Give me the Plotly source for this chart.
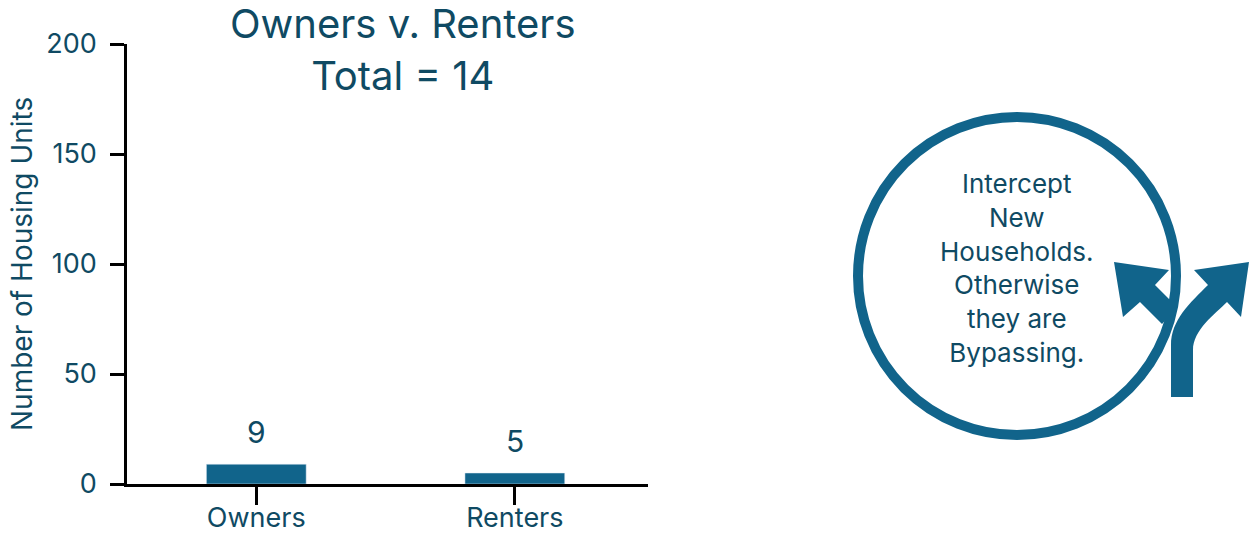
import plotly.graph_objects as go

# data
categories = ['Owners', 'Renters']
units = [9, 5]
total = sum(units)
y_ticks = [0, 50, 100, 150, 200]
circle_lines = ['Intercept', 'New', 'Households.', 'Otherwise', 'they are', 'Bypassing.']

W, H = 1251, 533
TEXT = '#0f4a63'
BLUE = '#11648b'
FONT = 'Inter'


def px(x, y):
    # figure pixels -> paper coords (margins are zero so paper == page)
    return x / W, 1 - y / H


def to_path(cmds):
    out = []
    for c in cmds:
        if isinstance(c, str):
            out.append(c)
        else:
            x, y = px(*c)
            out.append('%.5f,%.5f' % (x, y))
    return ' '.join(out)


fig = go.Figure()
fig.add_trace(go.Bar(x=categories, y=units, width=0.386, marker_color=BLUE,
                     showlegend=False, hoverinfo='x+y'))

# value labels a bit above each bar
for c, v in zip(categories, units):
    fig.add_annotation(x=c, y=v, text=str(v), showarrow=False, yanchor='bottom',
                       yshift=12, font=dict(size=30, color=TEXT, family=FONT))

# title
tx, ty = px(403, 49)
fig.add_annotation(xref='paper', yref='paper', x=tx, y=ty, xanchor='center', yanchor='middle',
                   text='Owners v. Renters<br>Total = %d' % total, showarrow=False,
                   font=dict(size=40, color=TEXT, family=FONT))

# y axis title
ax, ay = px(22, 264)
fig.add_annotation(xref='paper', yref='paper', x=ax, y=ay, textangle=-90, showarrow=False,
                   text='Number of Housing Units', xanchor='center', yanchor='middle',
                   font=dict(size=28, color=TEXT, family=FONT))

# circle
cx, cy, r = 1017, 276, 159
x0, y1 = px(cx - r, cy - r)
x1, y0 = px(cx + r, cy + r)
fig.add_shape(type='circle', xref='paper', yref='paper', x0=x0, x1=x1, y0=y0, y1=y1,
              line=dict(color=BLUE, width=10), fillcolor='rgba(0,0,0,0)')

# left arrow (turn off into the circle)
left_arrow = to_path(['M', (1114, 262), 'L', (1169, 270), 'L', (1155, 285), 'L', (1177, 307),
                      'L', (1162, 324), 'L', (1140, 302), 'L', (1123, 317), 'Z'])
fig.add_shape(type='path', xref='paper', yref='paper', path=left_arrow,
              fillcolor=BLUE, line=dict(width=0))

# right arrow (bypass)
right_arrow = to_path(['M', (1171, 397), 'L', (1193, 397), 'L', (1193, 350),
                       'C', (1193, 330), (1215, 314), (1227, 302),
                       'L', (1241, 317), 'L', (1249, 262), 'L', (1194, 270), 'L', (1208, 285),
                       'C', (1190, 303), (1171, 320), (1171, 345), 'Z'])
fig.add_shape(type='path', xref='paper', yref='paper', path=right_arrow,
              fillcolor=BLUE, line=dict(width=0))

tx2, ty2 = px(cx, 268)
fig.add_annotation(xref='paper', yref='paper', x=tx2, y=ty2, xanchor='center', yanchor='middle',
                   text='<br>'.join(circle_lines), showarrow=False,
                   font=dict(size=26, color=TEXT, family=FONT))

fig.update_layout(
    width=W, height=H,
    margin=dict(l=0, r=0, t=0, b=0, pad=0),
    plot_bgcolor='white', paper_bgcolor='white',
    font=dict(family=FONT, color=TEXT, size=24),
    xaxis=dict(domain=[127 / W, 648 / W], range=[-0.5, 1.515], showline=True, linecolor='black',
               linewidth=2.5, ticks='outside', ticklen=18, tickwidth=2.5, tickcolor='black',
               showgrid=False, zeroline=False, tickfont=dict(size=27, color=TEXT),
               ticklabelstandoff=-10, automargin=False, fixedrange=True),
    yaxis=dict(domain=[49 / H, 489 / H], range=[0, 200], tickvals=y_ticks, showline=True,
               linecolor='black', linewidth=2.5, ticks='outside', ticklen=14, tickwidth=2.5,
               tickcolor='black', showgrid=False, zeroline=False,
               tickfont=dict(size=27, color=TEXT), ticklabelstandoff=8, automargin=False,
               fixedrange=True),
)

# page has the default 8px body margin; drop it so the figure sits at the corner
fig.write_html('out.html', config={'displayModeBar': False},
               post_script="document.body.style.margin='0';")
